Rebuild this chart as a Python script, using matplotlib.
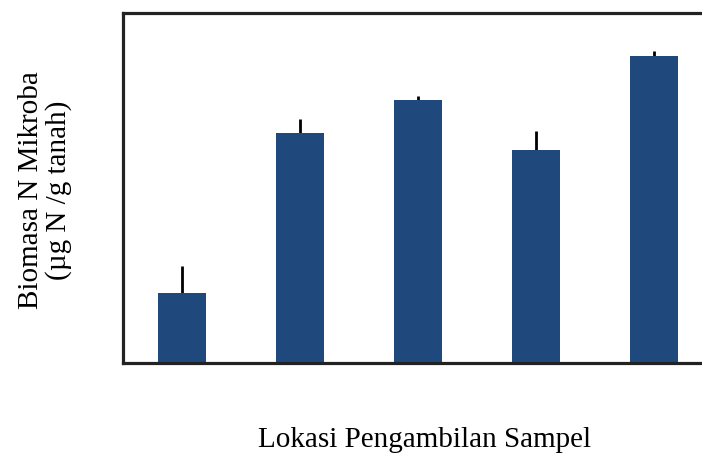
import numpy as np
import matplotlib.pyplot as plt

plt.rcParams['font.family'] = ['Liberation Serif', 'DejaVu Serif']

# data (arbitrary units, axis has no ticks)
lokasi = ['L1', 'L2', 'L3', 'L4', 'L5']
biomasa = [70, 230, 263, 213, 307]
galat = [27, 14, 4, 19, 5]

fig = plt.figure(figsize=(7.02, 4.57), dpi=100)
ax = fig.add_axes([123 / 702, 1 - 363 / 457, 590 / 702, 350 / 457])

x = np.arange(len(lokasi))
ax.bar(x, biomasa, width=48 / 118, color='#1f497d', zorder=2)
# only the upper half of the error bar is drawn
ax.errorbar(x, biomasa, yerr=[np.zeros(len(galat)), galat], fmt='none',
            ecolor='black', elinewidth=2, capsize=0, zorder=1)

ax.set_xlim(-0.5, 4.5)
ax.set_ylim(0, 350)
ax.set_xticks([])
ax.set_yticks([])
for side in ['left', 'bottom', 'top']:
    ax.spines[side].set_linewidth(2.3)
    ax.spines[side].set_color('#222222')
ax.spines['right'].set_visible(False)

fig.text(45 / 702, 1 - 190 / 457, 'Biomasa N Mikroba\n(µg N /g tanah)',
         rotation=90, ha='center', va='center', fontsize=21, linespacing=1.05)
fig.text(425 / 702, 1 - 440 / 457, 'Lokasi Pengambilan Sampel',
         ha='center', va='center', fontsize=21)

fig.savefig('out.png', dpi=100)
